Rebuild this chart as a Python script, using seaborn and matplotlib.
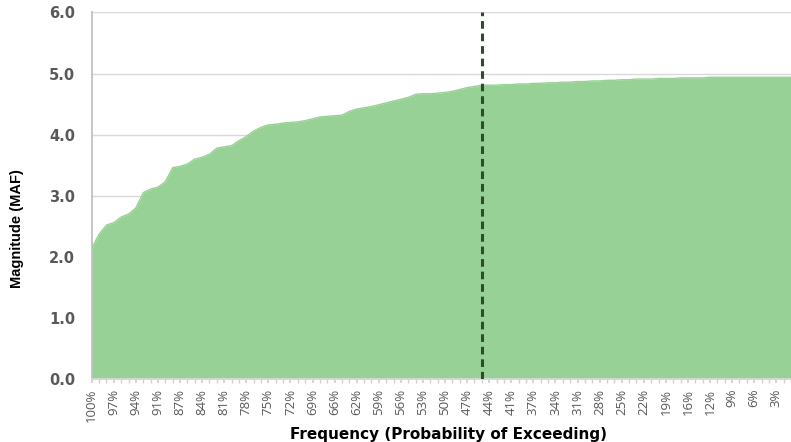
import matplotlib
matplotlib.use("Agg")
import matplotlib.pyplot as plt
import seaborn as sns
import numpy as np
import pandas as pd

# ---- data -----------------------------------------------------------------
magnitude = [
    2.14, 2.37, 2.52, 2.56, 2.65, 2.70, 2.80, 3.05, 3.11, 3.14,
    3.23, 3.46, 3.48, 3.52, 3.60, 3.63, 3.68, 3.78, 3.80, 3.82,
    3.90, 3.97, 4.06, 4.12, 4.16, 4.17, 4.19, 4.20, 4.21, 4.23,
    4.26, 4.29, 4.30, 4.31, 4.32, 4.38, 4.42, 4.44, 4.46, 4.49,
    4.52, 4.55, 4.58, 4.61, 4.66, 4.67, 4.67, 4.68, 4.69, 4.71,
    4.74, 4.77, 4.79, 4.81, 4.81, 4.81, 4.82, 4.82, 4.83, 4.83,
    4.84, 4.84, 4.85, 4.85, 4.86, 4.86, 4.87, 4.87, 4.88, 4.88,
    4.89, 4.89, 4.90, 4.90, 4.91, 4.91, 4.91, 4.92, 4.92, 4.92,
    4.93, 4.93, 4.93, 4.93, 4.94, 4.94, 4.94, 4.94, 4.94, 4.94,
    4.94, 4.94, 4.94, 4.94, 4.94, 4.94,
]
tick_labels = [
    "100%", "97%", "94%", "91%", "87%", "84%", "81%", "78%", "75%", "72%",
    "69%", "66%", "62%", "59%", "56%", "53%", "50%", "47%", "44%", "41%",
    "37%", "34%", "31%", "28%", "25%", "22%", "19%", "16%", "12%", "9%",
    "6%", "3%",
]
y_ticks = [0.0, 1.0, 2.0, 3.0, 4.0, 5.0, 6.0]
marker_index = 53  # dashed reference line position (category index)

df = pd.DataFrame({"idx": np.arange(len(magnitude)), "mag": magnitude})

# ---- style ----------------------------------------------------------------
sns.set_theme(style="white")
plt.rcParams["font.family"] = ["Open Sans", "DejaVu Sans"]

fill_color = "#98d196"
grid_color = "#d9d9d9"
text_color = "#595959"

W, H = 791, 442
fig = plt.figure(figsize=(W / 100, H / 100), dpi=100)
left_px, right_px, top_px, bottom_px = 91.7, 791, 12.5, 379
ax_w = right_px - left_px
ax_h = bottom_px - top_px
ax = fig.add_axes([left_px / W, (H - bottom_px) / H, ax_w / W, ax_h / H])

step_px = 7.41
ax.fill_between(df["idx"], 0, df["mag"], color=fill_color, linewidth=0, zorder=2)
sns.lineplot(data=df, x="idx", y="mag", ax=ax, color=fill_color, linewidth=1, zorder=3)
ax.axvline(marker_index, color="#2f4a2c", linestyle=(0, (2.5, 1.6)), linewidth=2.2, zorder=4)

ax.set_xlim(0, ax_w / step_px)
ax.set_ylim(0, 6)
ax.set_yticks(y_ticks)
ax.set_yticklabels([f"{v:.1f}" for v in y_ticks], fontfamily="DejaVu Sans",
                   fontweight="bold")
ax.yaxis.grid(True, color=grid_color, linewidth=1, zorder=0)
ax.set_axisbelow(True)

major_pos = np.arange(0, 3 * len(tick_labels), 3)
ax.set_xticks(major_pos)
ax.set_xticklabels(tick_labels, rotation=90, fontweight="medium")
ax.set_xticks(np.arange(len(magnitude)), minor=True)

for s in ["top", "right"]:
    ax.spines[s].set_visible(False)
ax.spines["left"].set_color("#bfbfbf")
ax.spines["bottom"].set_color("#d9d9d9")

ax.tick_params(axis="y", which="major", length=4, color="#bfbfbf", pad=8,
               labelsize=10.5, labelcolor=text_color)
ax.tick_params(axis="x", which="major", length=3, color="#d0d0d0", pad=4,
               labelsize=9.5, labelcolor=text_color, bottom=True)
ax.tick_params(axis="x", which="minor", length=3, color="#d0d0d0", bottom=True)

ax.set_ylabel("Magnitude (MAF)", fontsize=10.5, fontweight="bold", color="black",
              family=["Liberation Sans", "DejaVu Sans"])
ax.yaxis.set_label_coords(-(left_px - 17) / ax_w, (bottom_px - 229) / ax_h)
ax.yaxis.label.set_va("center")
ax.set_xlabel("Frequency (Probability of Exceeding)", fontsize=11, fontweight="bold",
              color="black", family=["DejaVu Sans"])
ax.xaxis.set_label_coords((448 - left_px) / ax_w, -(434 - bottom_px) / ax_h)
ax.xaxis.label.set_va("center")

# place y tick labels so that their right edge sits ~75 px from the left
fig.canvas.draw()
renderer = fig.canvas.get_renderer()
bb = ax.get_yticklabels()[-1].get_window_extent(renderer)
shift_pt = (bb.x1 - 75) * 72 / fig.dpi
ax.tick_params(axis="y", which="major", pad=max(1, 8 + shift_pt))

fig.savefig("out.png", dpi=100)
